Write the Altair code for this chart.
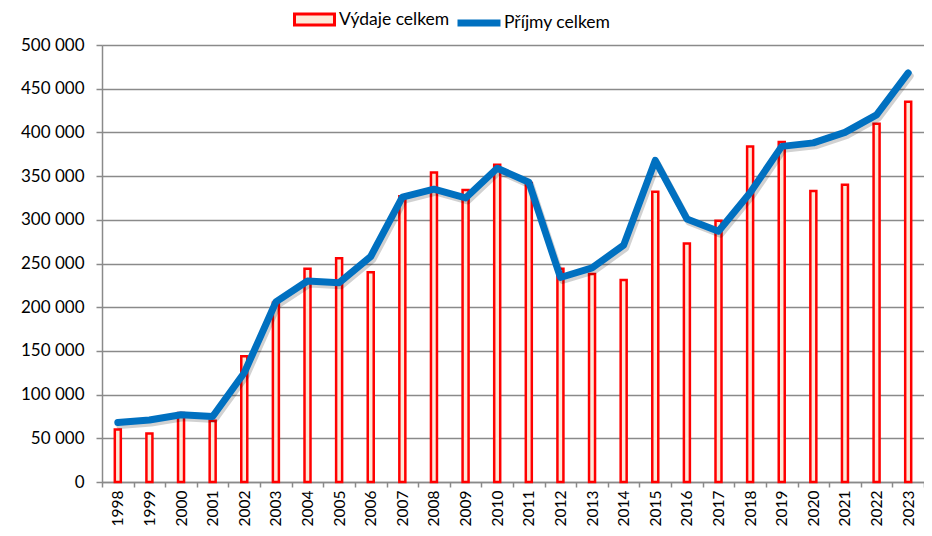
import altair as alt
import pandas as pd

years = [str(y) for y in range(1998, 2024)]
vydaje = [60000, 55500, 79000, 70000, 144000, 205000, 244000, 256000, 240000,
          327000, 354000, 334000, 363000, 342000, 244000, 238000, 231000, 332000,
          273000, 299000, 384000, 389000, 333000, 340000, 410000, 435000]
prijmy = [68000, 71000, 77000, 75000, 125000, 206000, 230000, 228000, 258000,
          326000, 335000, 325000, 359000, 343000, 234000, 245000, 271000, 368000,
          301000, 287000, 331000, 384000, 388000, 400000, 420000, 468000]
series_names = ["Výdaje celkem", "Příjmy celkem"]

df_v = pd.DataFrame({"rok": years, "hodnota": vydaje, "serie": series_names[0]})
df_p = pd.DataFrame({"rok": years, "hodnota": prijmy, "serie": series_names[1]})

FONT = "Lato"
GRID = "#8a8a8a"

x_enc = alt.X("rok:O", title=None,
              scale=alt.Scale(paddingInner=0, paddingOuter=0),
              axis=alt.Axis(labelAngle=-90, tickBand="extent", tickSize=5,
                            labelPadding=3, labelFontSize=15.5, labelFont=FONT,
                            labelColor="#000000", domainColor=GRID, tickColor=GRID,
                            domainWidth=1.5, tickWidth=1.5, grid=False))
y_enc = alt.Y("hodnota:Q", title=None,
              scale=alt.Scale(domain=[0, 500000], nice=False),
              axis=alt.Axis(values=list(range(0, 500001, 50000)),
                            labelExpr="replace(format(datum.value, ','), ',', ' ')",
                            tickSize=6, labelPadding=12, labelFontSize=17,
                            labelFont=FONT, labelColor="#000000",
                            domainColor=GRID, tickColor=GRID, gridColor=GRID,
                            domainWidth=1.5, tickWidth=1.5, gridWidth=1.3))

bars = alt.Chart(df_v).mark_bar(size=6, stroke="#ff0000", strokeWidth=2.5).encode(
    x=x_enc, y=y_enc,
    fill=alt.Fill("serie:N", title=None,
                  scale=alt.Scale(domain=[series_names[0]], range=["#fde9d9"]),
                  legend=alt.Legend(orient="none", legendX=191, legendY=-47,
                                    symbolType="M-1,-0.28L1,-0.28L1,0.28L-1,0.28Z",
                                    symbolSize=1600, symbolStrokeColor="#ff0000",
                                    symbolStrokeWidth=3, symbolOpacity=1,
                                    labelFont=FONT, labelFontSize=17.5,
                                    labelColor="#000000", labelOffset=3,
                                    padding=0))
)

shadow = alt.Chart(df_p).mark_line(color="#000000", opacity=0.18, strokeWidth=7,
                                   strokeCap="round", strokeJoin="round",
                                   xOffset=2, yOffset=3).encode(
    x="rok:O", y="hodnota:Q"
)

line = alt.Chart(df_p).mark_line(strokeWidth=7, strokeCap="round",
                                 strokeJoin="round").encode(
    x="rok:O", y="hodnota:Q",
    stroke=alt.Stroke("serie:N", title=None,
                      scale=alt.Scale(domain=[series_names[1]], range=["#0070c0"]),
                      legend=alt.Legend(orient="none", legendX=352, legendY=-47,
                                        symbolType="stroke", symbolSize=1849,
                                        symbolStrokeWidth=7,
                                        labelFont=FONT, labelFontSize=17.5,
                                        labelColor="#000000", labelOffset=0,
                                        padding=0))
)

chart = alt.layer(bars, shadow, line).resolve_scale(fill="independent",
                                                   stroke="independent").properties(
    width=822, height=437,
    autosize=alt.AutoSizeParams(type="none"),
    padding={"left": 94, "top": 37, "right": 0, "bottom": 46},
).configure_view(stroke=None).configure(background="white")

chart.save("out.html", embed_options={"renderer": "svg", "actions": False})
